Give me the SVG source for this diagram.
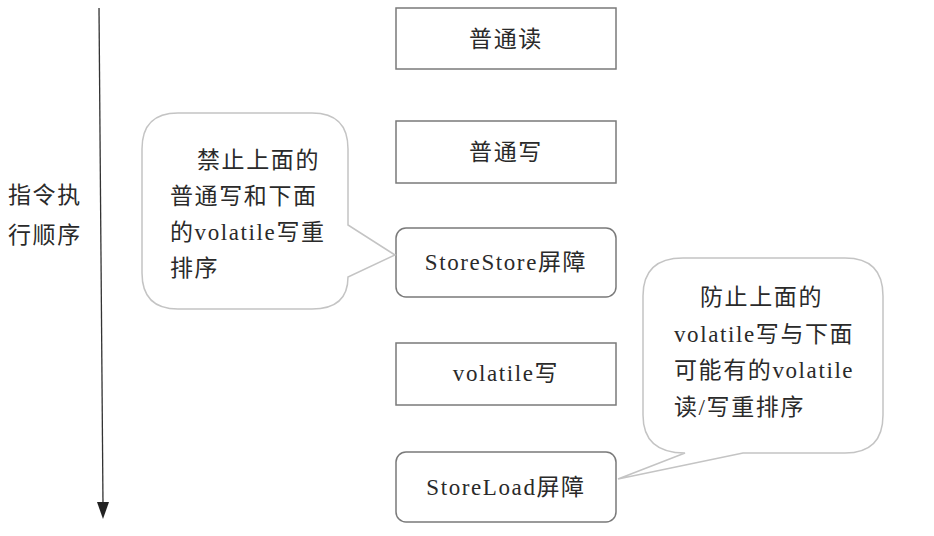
<svg xmlns="http://www.w3.org/2000/svg" width="934" height="536" viewBox="0 0 934 536">
<defs>
<style>
.t{font-family:"Liberation Serif","Noto Sans CJK SC",serif;font-size:23px;fill:#2a2a2a;letter-spacing:1.6px}
.c{text-anchor:middle}
.box{fill:#fff;stroke:#7a7a7a;stroke-width:1.5}
.bub{fill:#fff;stroke:#c4c4c4;stroke-width:1.5}
</style>
</defs>
<rect width="934" height="536" fill="#fff"/>
<g id="connectors">
<line x1="99" y1="8" x2="103" y2="505" stroke="#333" stroke-width="1.3"/>
<path d="M97,502 L109,502 L103,519 Z" fill="#222"/>
</g>
<g id="axis-label">
<text class="t" x="8" y="203">指令执</text>
<text class="t" x="8" y="243">行顺序</text>
</g>
<g id="n1">
<rect class="box" x="396" y="8" width="220" height="61"/>
<text class="t c" x="506" y="47">普通读</text>
</g>
<g id="n2">
<rect class="box" x="396" y="121" width="220" height="62"/>
<text class="t c" x="506" y="160">普通写</text>
</g>
<g id="n3">
<rect class="box" x="396" y="228" width="220" height="69" rx="10"/>
<text class="t c" x="506" y="270">StoreStore屏障</text>
</g>
<g id="n4">
<rect class="box" x="396" y="343" width="220" height="62"/>
<text class="t c" x="506" y="381">volatile写</text>
</g>
<g id="n5">
<rect class="box" x="396" y="452" width="220" height="70" rx="10"/>
<text class="t c" x="506" y="495">StoreLoad屏障</text>
</g>
<g id="callout1">
<path class="bub" d="M178,113 H312 Q348,113 348,149 V225 L395,255 L348,277 Q348,309 312,309 H178 Q142,309 142,273 V149 Q142,113 178,113 Z"/>
<text class="t" x="197" y="168">禁止上面的</text>
<text class="t" x="170" y="204">普通写和下面</text>
<text class="t" x="170" y="240">的volatile写重</text>
<text class="t" x="170" y="276">排序</text>
</g>
<g id="callout2">
<path class="bub" d="M683,258 H845 Q883,258 883,296 V415 Q883,453 845,453 H743 L618,479 L685,453 Q643,453 643,415 V296 Q643,258 683,258 Z"/>
<text class="t" x="700" y="305">防止上面的</text>
<text class="t" x="674" y="342">volatile写与下面</text>
<text class="t" x="674" y="378">可能有的volatile</text>
<text class="t" x="674" y="415">读/写重排序</text>
</g>
</svg>
